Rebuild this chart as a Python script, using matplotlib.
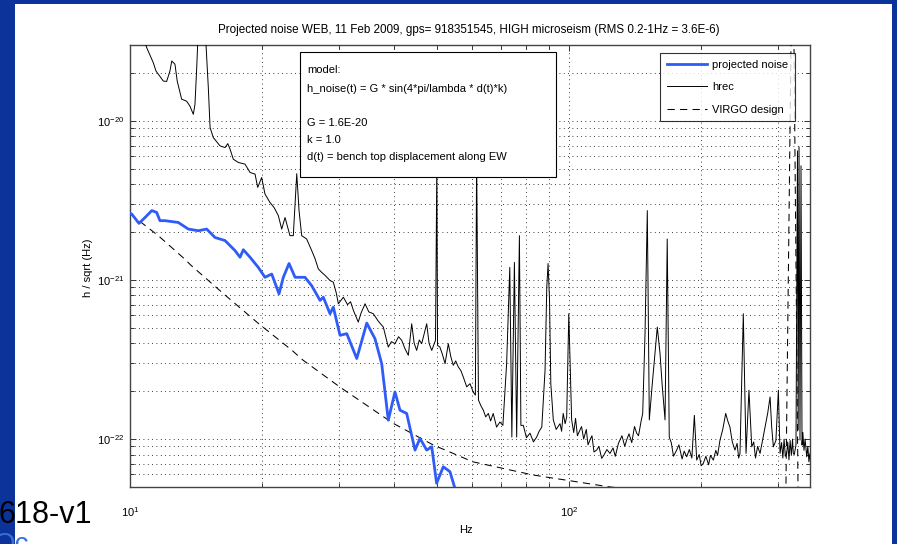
import matplotlib
matplotlib.use('Agg')
import matplotlib.pyplot as plt
from matplotlib.patches import Rectangle
from matplotlib.ticker import NullFormatter, LogLocator

plt.rcParams['font.family'] = ['Liberation Sans', 'DejaVu Sans']
plt.rcParams['mathtext.default'] = 'regular'

# ---------------- data ----------------
proj_freq = [10.0, 10.09, 10.48, 10.82, 11.21, 11.50, 11.70, 12.02, 12.88, 13.58, 14.31,
             14.95, 15.62, 16.46, 17.35, 17.81, 18.12, 18.77, 19.60, 20.30, 21.03,
             21.85, 22.35, 23.03, 23.77, 25.04, 25.94, 27.10, 27.56, 28.55, 29.05,
             30.09, 31.17, 32.85, 34.62, 36.14, 37.44, 38.76, 40.14, 41.21, 42.68,
             44.59, 45.77, 47.41, 48.68, 49.94, 51.72, 53.56, 54.98]
proj_amp = [2.62e-21, 2.60e-21, 2.27e-21, 2.47e-21, 2.73e-21, 2.66e-21, 2.36e-21, 2.36e-21,
            2.30e-21, 2.09e-21, 2.04e-21, 2.09e-21, 1.85e-21, 1.77e-21, 1.53e-21, 1.39e-21,
            1.55e-21, 1.39e-21, 1.20e-21, 1.04e-21, 1.09e-21, 8.19e-22, 1.04e-21, 1.27e-21,
            1.04e-21, 1.04e-21, 9.2e-22, 7.44e-22, 7.80e-22, 6.14e-22, 6.75e-22, 4.49e-22,
            4.60e-22, 3.21e-22, 5.36e-22, 4.28e-22, 2.98e-22, 1.315e-22, 1.98e-22, 1.52e-22,
            1.45e-22, 8.53e-23, 1.01e-22, 8.53e-23, 8.95e-23, 5.28e-23, 6.70e-23, 6.24e-23,
            4.9e-23]

# hrec: (frequency [Hz], amplitude) pairs
hrec_points = [
    (10.0, 6.0e-20), (10.92, 2.88e-20), (11.30, 2.32e-20), (11.46, 2.06e-20),
    (11.91, 1.78e-20), (12.12, 1.77e-20), (12.33, 2.06e-20), (12.45, 2.38e-20),
    (12.66, 2.27e-20), (12.81, 1.78e-20), (13.11, 1.37e-20), (13.46, 1.33e-20),
    (13.69, 1.24e-20), (13.94, 1.10e-20), (14.06, 1.27e-20), (14.19, 2.16e-20),
    (14.51, 1.0e-19), (14.90, 3.0e-20), (15.08, 1.62e-20), (15.22, 9.08e-21),
    (15.48, 7.86e-21), (16.03, 6.97e-21), (16.46, 6.80e-21), (16.70, 7.20e-21),
    (16.90, 6.65e-21), (17.19, 5.75e-21), (17.65, 5.48e-21), (18.28, 5.35e-21),
    (18.77, 4.74e-21), (19.27, 4.63e-21), (19.54, 3.82e-21), (19.95, 4.41e-21),
    (20.30, 3.47e-21), (20.84, 3.07e-21), (21.3, 2.85e-21), (21.77, 2.54e-21),
    (22.16, 2.09e-21), (22.55, 2.47e-21), (23.14, 1.90e-21), (23.55, 1.90e-21),
    (23.98, 4.66e-21), (24.27, 2.73e-21), (24.61, 1.90e-21), (25.26, 1.81e-21),
    (25.94, 1.53e-21), (26.4, 1.36e-21), (26.85, 1.175e-21), (27.3, 1.12e-21),
    (27.81, 1.07e-21), (28.55, 9.93e-22), (29.05, 9.69e-22), (29.5, 8.3e-22),
    (29.83, 7.09e-22), (30.62, 7.80e-22), (31.3, 7.0e-22), (31.8, 7.3e-22),
    (32.28, 6.44e-22), (33.11, 5.44e-22), (33.6, 6.2e-22), (34.31, 7.09e-22),
    (35.0, 6.3e-22), (35.83, 6.14e-22), (36.8, 5.5e-22), (37.76, 5.06e-22),
    (38.76, 3.79e-22), (39.4, 4.1e-22), (40.14, 3.98e-22), (40.9, 4.4e-22),
    (41.58, 4.18e-22), (42.3, 3.7e-22), (43.05, 3.36e-22), (43.82, 5.31e-22),
    (44.4, 4.0e-22), (44.98, 3.61e-22), (45.6, 4.2e-22), (46.18, 3.98e-22),
    (46.8, 4.6e-22), (47.41, 5.31e-22), (48.0, 4.0e-22), (48.68, 3.61e-22),
    (49.65, 4.18e-22), (50.0, 5.5e-21), (50.18, 3.88e-22), (50.8, 3.79e-22),
    (51.5, 3.4e-22), (52.2, 2.98e-22), (53.1, 3.98e-22), (53.8, 3.3e-22),
    (54.5, 2.91e-22), (55.2, 3.1e-22), (55.96, 2.84e-22), (56.7, 2.7e-22),
    (57.43, 2.46e-22), (58.48, 2.13e-22), (59.5, 2.23e-22), (60.5, 1.98e-22),
    (61.2, 1.89e-22), (61.6, 6.0e-21), (62.2, 1.76e-22), (63.0, 1.62e-22),
    (63.8, 1.52e-22), (64.6, 1.38e-22), (65.5, 1.45e-22), (66.3, 1.30e-22),
    (67.2, 1.45e-22), (68.4, 1.19e-22), (69.6, 1.28e-22), (70.7, 1.22e-22),
    (72.1, 2.98e-22), (73.3, 1.2e-21), (74.1, 1.03e-22), (75.1, 1.29e-21),
    (76.0, 1.03e-22), (77.1, 1.90e-21), (77.7, 1.22e-22), (78.7, 1.22e-22),
    (80.0, 1.02e-22), (81.5, 1.09e-22), (83.0, 9.6e-23), (84.4, 1.03e-22),
    (85.5, 1.12e-22), (86.7, 1.19e-22), (88.2, 2.71e-22), (89.0, 9.01e-22),
    (89.6, 1.27e-21), (90.3, 7.44e-22), (90.9, 2.23e-22), (92.1, 1.32e-22),
    (93.5, 1.15e-22), (95.4, 1.25e-22), (96.2, 1.12e-22), (97.0, 1.45e-22),
    (98.0, 1.25e-22), (98.8, 1.38e-22), (99.9, 6.14e-22), (101.4, 1.32e-22),
    (102.5, 1.10e-22), (103.5, 1.35e-22), (104.5, 1.05e-22), (105.9, 1.14e-22),
    (106.8, 1.20e-22), (108.0, 1.00e-22), (109.5, 1.15e-22), (110.5, 9.2e-23),
    (111.6, 9.86e-23), (112.8, 1.05e-22), (114.0, 8.3e-23), (115.6, 8.53e-23),
    (117.0, 9.0e-23), (118.7, 7.57e-23), (120.0, 7.9e-23), (122.0, 8.6e-23),
    (124.0, 8.13e-23), (126.0, 8.8e-23), (127.5, 7.8e-23), (129.6, 9.40e-23),
    (132.0, 1.05e-22), (134.0, 9.0e-23), (135.3, 9.86e-23), (137.0, 1.08e-22),
    (139.0, 9.5e-23), (141.0, 1.2e-22), (142.6, 1.09e-22), (144.0, 1.05e-22),
    (146.0, 1.3e-22), (147.2, 1.45e-22), (149.0, 4.60e-22), (150.8, 2.73e-21),
    (152.4, 1.32e-22), (154.5, 2.1e-22), (157.0, 3.45e-22), (158.9, 5.06e-22),
    (161.2, 3.45e-22), (163.0, 2.2e-22), (165.5, 1.32e-22), (167.4, 1.81e-21),
    (169.2, 1.03e-22), (171.0, 9.5e-23), (173.0, 7.8e-23), (175.9, 8.53e-23),
    (178.0, 9.2e-23), (181.0, 7.5e-23), (183.0, 8.4e-23), (185.4, 7.74e-23),
    (188.0, 8.6e-23), (190.5, 7.6e-23), (193.0, 1.41e-22), (195.4, 7.38e-23),
    (198.0, 8.0e-23), (200.0, 6.8e-23), (202.3, 7.04e-23), (205.0, 7.8e-23),
    (208.0, 6.9e-23), (210.0, 7.9e-23), (213.2, 7.38e-23), (216.0, 8.5e-23),
    (218.0, 7.9e-23), (220.8, 9.86e-23), (224.0, 1.15e-22), (227.5, 1.45e-22),
    (230.0, 1.3e-22), (232.6, 1.19e-22), (235.5, 9.6e-23), (238.8, 8.53e-23),
    (241.5, 9.4e-23), (243.5, 7.6e-23), (245.2, 8.13e-23), (249.5, 6.14e-22),
    (253.1, 8.13e-23), (257.0, 2.03e-22), (260.8, 8.95e-23), (263.5, 9.6e-23),
    (266.0, 7.6e-23), (269.0, 9.0e-23), (272.4, 8.13e-23), (275.5, 9.6e-23),
    (279.7, 1.19e-22), (283.5, 1.45e-22), (287.1, 1.84e-22), (289.5, 1.2e-22),
    (292.1, 8.95e-23), (296.0, 9.8e-23), (299.9, 2.03e-22), (302.5, 8.13e-23),
    (305.0, 9.5e-23), (307.0, 7.6e-23), (309.0, 1.0e-22), (311.0, 7.8e-23),
    (313.3, 8.13e-23), (315.0, 9.6e-23), (317.0, 7.4e-23), (319.0, 9.8e-23),
    (321.0, 7.9e-23), (323.0, 1.0e-22), (324.3, 8.13e-23), (326.0, 8.0e-23),
    (328.9, 9.17e-23), (331.5, 6.48e-21), (332.7, 1.14e-22), (334.2, 6.87e-21),
    (335.9, 9.86e-23), (337.7, 5.22e-21), (339.5, 9.17e-23), (341.0, 1.1e-22),
    (343.0, 8.5e-23), (345.0, 1.0e-22), (348.0, 7.74e-23), (350.0, 9.0e-23),
    (352.0, 7.2e-23), (354.0, 8.13e-23),
]
hrec_freq = [p[0] for p in hrec_points]
hrec_amp = [p[1] for p in hrec_points]

virgo_freq = [10.0, 11.6, 13.3, 13.8, 16.5, 19.6, 23.4, 24.8, 30.1, 39.7, 49.0, 60.4, 82.8,
              115.8, 124.0, 200.0, 300.0, 312.0, 320.4, 322.9, 325.5, 332.4, 340.0, 354.0]
virgo_amp = [2.61e-21, 1.90e-21, 1.36e-21, 1.23e-21, 8.0e-22, 5.34e-22, 3.61e-22, 3.13e-22,
             2.12e-22, 1.26e-22, 9.2e-23, 7.2e-23, 5.95e-23, 5.15e-23, 5.0e-23, 4.4e-23,
             4.3e-23, 5.0e-23, 3.0e-20, 3.0e-19, 3.0e-20, 5.0e-23, 4.6e-23, 4.6e-23]

series_labels = ['projected noise', 'hrec', 'VIRGO design']
title_text = ('Projected noise WEB, 11 Feb 2009, gps= 918351545, '
              'HIGH microseism (RMS 0.2-1Hz = 3.6E-6)')
model_lines = ['model:', 'h_noise(t) = G * sin(4*pi/lambda * d(t)*k)', '',
               'G = 1.6E-20', 'k = 1.0', 'd(t) = bench top displacement along EW']

# ---------------- figure ----------------
W, H = 897, 544
fig = plt.figure(figsize=(W / 100, H / 100), dpi=100, facecolor='#0b3399')
fig.patches.append(Rectangle((15 / W, 0), (892 - 15) / W, 1 - 4 / H,
                             transform=fig.transFigure, facecolor='white',
                             edgecolor='none', zorder=-10))

ax = fig.add_axes([130 / W, 1 - 487 / H, 680 / W, 442 / H])
ax.set_zorder(2)
ax.set_xscale('log')
ax.set_yscale('log')

ax.plot(proj_freq, proj_amp, color='#2f5cf6', lw=2.0, zorder=4, label=series_labels[0])
ax.plot(hrec_freq, hrec_amp, color='black', lw=0.7, zorder=3, label=series_labels[1])
ax.plot(virgo_freq, virgo_amp, color='black', lw=0.75, ls=(0, (7, 5)), zorder=3,
        label=series_labels[2])

ax.set_xlim(10, 354)
ax.set_ylim(5e-23, 3e-20)

ax.xaxis.set_major_locator(LogLocator(base=10))
ax.xaxis.set_minor_locator(LogLocator(base=10, subs=range(2, 10)))
ax.yaxis.set_minor_locator(LogLocator(base=10, subs=range(2, 10)))
ax.xaxis.set_minor_formatter(NullFormatter())
ax.yaxis.set_minor_formatter(NullFormatter())

ax.grid(True, which='both', color='black', linewidth=0.6, linestyle=(0, (1, 4.2)))
ax.set_axisbelow(True)
ax.tick_params(which='both', direction='in', top=True, right=True, labelsize=8,
               width=0.7, color='#333333')
ax.tick_params(which='major', length=4)
ax.tick_params(which='minor', length=3)
ax.tick_params(axis='x', pad=13)
ax.tick_params(axis='y', pad=4)
for sp in ax.spines.values():
    sp.set_color('#444444')
    sp.set_linewidth(1.0)

# model text box
ax.add_patch(Rectangle((0.25, 0.7014), 0.3765, 0.2826, transform=ax.transAxes,
                       facecolor='white', edgecolor='black', lw=0.8, zorder=6))
line_y = [70, 89, 106, 123, 140, 157]
for txt, yy in zip(model_lines, line_y):
    ax.text((307 - 130) / 680, 1 - (yy - 45) / 442, txt, transform=ax.transAxes,
            fontsize=8, va='center', ha='left', zorder=7)

leg = ax.legend(loc='upper right', bbox_to_anchor=(0.978, 0.982), borderaxespad=0,
                fontsize=8, frameon=True, fancybox=False, edgecolor='black',
                handlelength=3.6, handletextpad=0.5, labelspacing=1.12, borderpad=0.6)
leg.get_frame().set_linewidth(0.8)
leg.set_zorder(10)

fig.text(469 / W, 1 - 30 / H, title_text, ha='center', va='center', fontsize=8.4)
fig.text(466 / W, 1 - 530 / H, 'Hz', ha='center', va='center', fontsize=8)
fig.text(88 / W, 1 - 268 / H, 'h / sqrt (Hz)', ha='center', va='center', rotation=90,
         fontsize=8)

# slide leftovers
fig.text(92 / W, 1 - 523 / H, '618-v1', ha='right', va='baseline', fontsize=22,
         color='black', zorder=5)
fig.text(-6 / W, 1 - 552 / H, 'Oc', ha='left', va='baseline', fontsize=20,
         color='#3a6fd8', zorder=5)

fig.savefig('out.png', dpi=100, facecolor=fig.get_facecolor())
